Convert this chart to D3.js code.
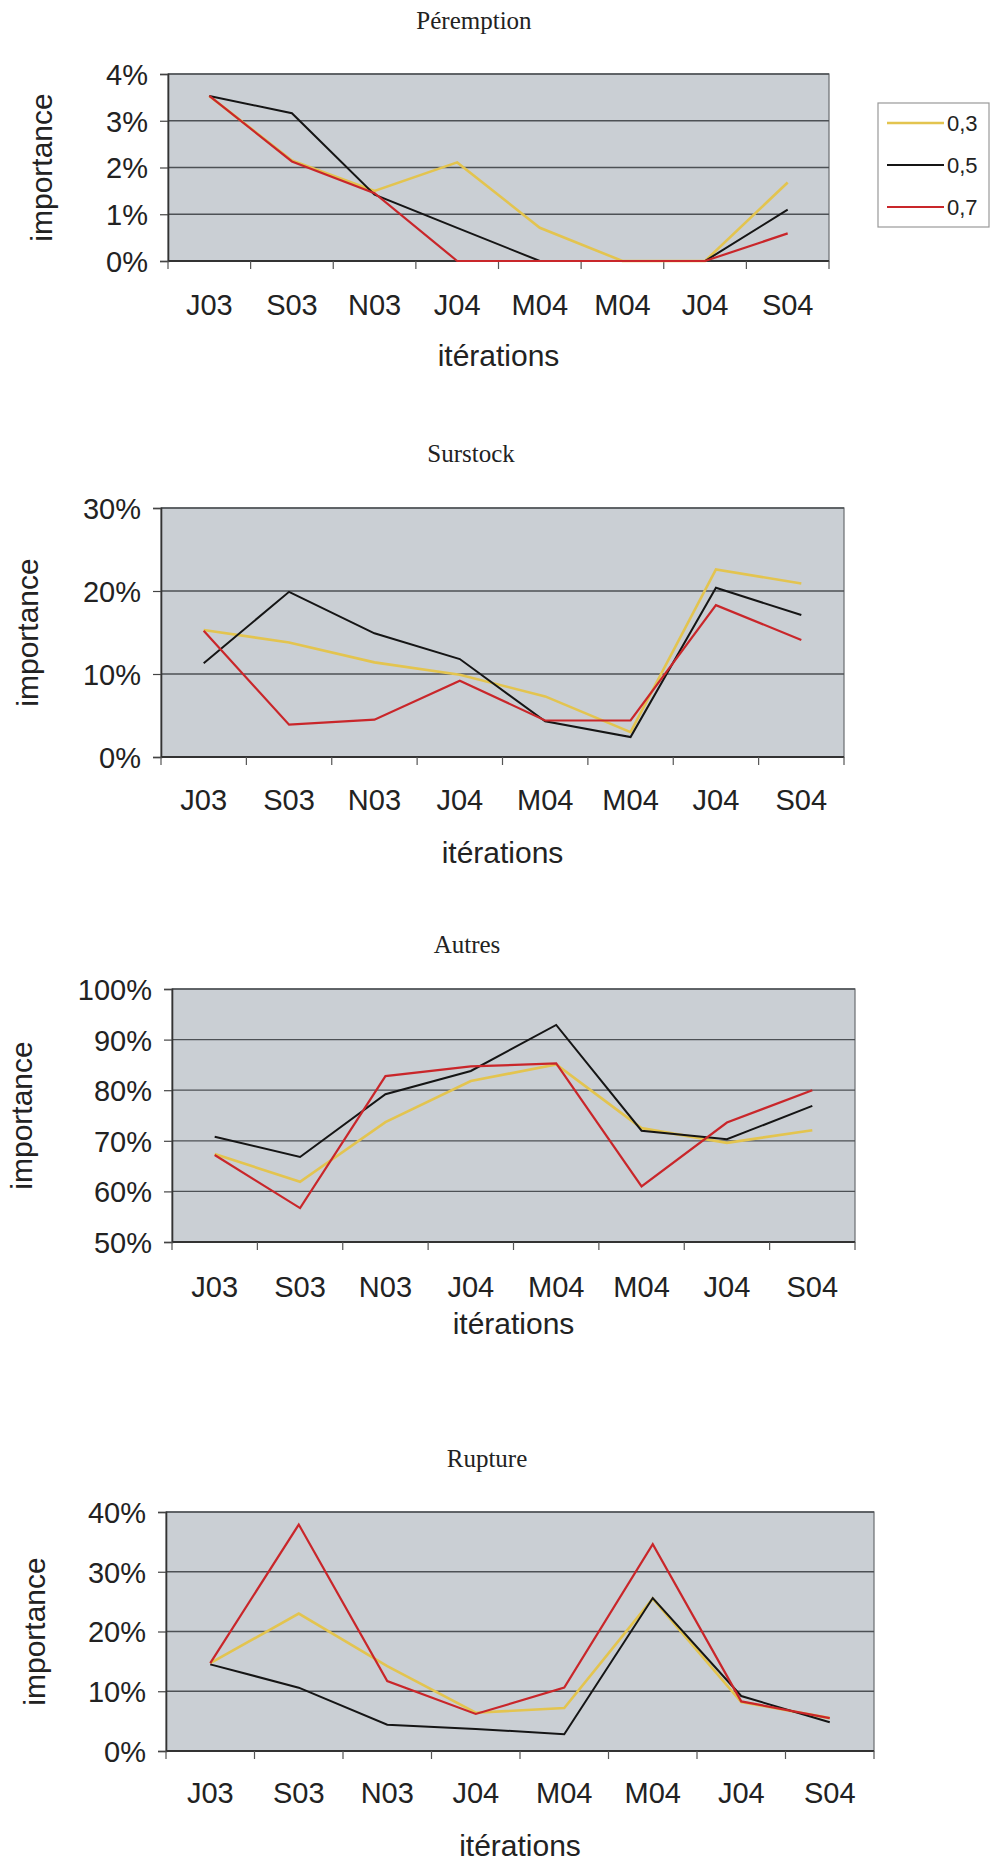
<!DOCTYPE html>
<html>
<head>
<meta charset="utf-8">
<script src="https://cdn.jsdelivr.net/npm/d3@7"></script>
<style>
  html, body { margin: 0; padding: 0; background: #fff; }
  svg { display: block; }
  .tick text { fill: #222; }
</style>
</head>
<body>
<svg id="chart" width="993" height="1862"></svg>
<script>
// ---- data ----
const categories = ["J03", "S03", "N03", "J04", "M04", "M04", "J04", "S04"];
const seriesNames = ["0,3", "0,5", "0,7"];

const peremption03 = [3.53, 2.15, 1.5, 2.11, 0.71, 0, 0, 1.68];
const peremption05 = [3.53, 3.16, 1.42, 0.71, 0, 0, 0, 1.1];
const peremption07 = [3.53, 2.13, 1.45, 0, 0, 0, 0, 0.59];
const peremptionTicks = [0, 1, 2, 3, 4];

const surstock03 = [15.3, 13.8, 11.4, 9.9, 7.3, 3.0, 22.6, 20.9];
const surstock05 = [11.3, 19.9, 14.9, 11.8, 4.3, 2.4, 20.4, 17.1];
const surstock07 = [15.2, 3.9, 4.5, 9.2, 4.4, 4.4, 18.3, 14.1];
const surstockTicks = [0, 10, 20, 30];

const autres03 = [67.4, 61.9, 73.7, 81.8, 85.1, 72.5, 69.6, 72.1];
const autres05 = [70.8, 66.8, 79.2, 83.8, 92.9, 72.0, 70.3, 76.9];
const autres07 = [67.2, 56.7, 82.8, 84.7, 85.3, 61.0, 73.6, 80.0];
const autresTicks = [50, 60, 70, 80, 90, 100];

const rupture03 = [14.7, 23.0, 14.2, 6.4, 7.2, 25.5, 8.2, 5.5];
const rupture05 = [14.5, 10.6, 4.4, 3.7, 2.8, 25.6, 9.2, 4.8];
const rupture07 = [14.7, 37.9, 11.7, 6.2, 10.6, 34.6, 8.3, 5.5];
const ruptureTicks = [0, 10, 20, 30, 40];

// ---- styles / layout ----
const colors = ["#e3c44f", "#151515", "#c9262a"];
const widths = [2.6, 2, 2.2];
const fontSans = "Arial, 'Liberation Sans', Helvetica, sans-serif";
const fontSerif = "'Liberation Serif', 'Times New Roman', serif";

const charts = [
  { title: "Péremption", series: [peremption03, peremption05, peremption07], ticks: peremptionTicks,
    x0: 168, x1: 829, y0: 74, y1: 261, titleX: 474, titleY: 29, xLabY: 315, itY: 366, impX: 52, legend: true },
  { title: "Surstock", series: [surstock03, surstock05, surstock07], ticks: surstockTicks,
    x0: 161, x1: 844, y0: 508, y1: 757, titleX: 471, titleY: 462, xLabY: 810, itY: 863, impX: 38 },
  { title: "Autres", series: [autres03, autres05, autres07], ticks: autresTicks,
    x0: 172, x1: 855, y0: 989, y1: 1242, titleX: 467, titleY: 953, xLabY: 1297, itY: 1334, impX: 32 },
  { title: "Rupture", series: [rupture03, rupture05, rupture07], ticks: ruptureTicks,
    x0: 166, x1: 874, y0: 1512, y1: 1751, titleX: 487, titleY: 1467, xLabY: 1803, itY: 1856, impX: 45 }
];

const svg = d3.select("#chart");

charts.forEach(c => {
  const g = svg.append("g");
  const x = d3.scaleBand().domain(d3.range(categories.length)).range([c.x0, c.x1]);
  const y = d3.scaleLinear().domain([c.ticks[0], c.ticks[c.ticks.length - 1]]).range([c.y1, c.y0]);

  // plot background
  g.append("rect")
    .attr("x", c.x0).attr("y", c.y0)
    .attr("width", c.x1 - c.x0).attr("height", c.y1 - c.y0)
    .attr("fill", "#cacfd4")
    .attr("stroke", "#6a6d70").attr("stroke-width", 1.2);

  // gridlines
  g.selectAll(".grid").data(c.ticks).join("line")
    .attr("x1", c.x0).attr("x2", c.x1)
    .attr("y1", d => y(d)).attr("y2", d => y(d))
    .attr("stroke", "#4d5155").attr("stroke-width", 1.3);

  // y axis
  const yAxis = g.append("g")
    .attr("transform", `translate(${c.x0},0)`)
    .call(d3.axisLeft(y).tickValues(c.ticks).tickFormat(d => d + "%").tickSize(8).tickPadding(12));
  yAxis.select(".domain").attr("stroke", "#333").attr("stroke-width", 1.6);
  yAxis.selectAll(".tick line").attr("stroke", "#444").attr("stroke-width", 1.2);
  yAxis.selectAll("text").attr("font-family", fontSans).attr("font-size", 29).attr("fill", "#222")
    .attr("dy", "0.36em");

  // x axis line
  g.append("line")
    .attr("x1", c.x0).attr("x2", c.x1).attr("y1", c.y1).attr("y2", c.y1)
    .attr("stroke", "#333").attr("stroke-width", 1.8);

  // x boundary ticks
  const bounds = d3.range(categories.length + 1).map(i => i < categories.length ? x(i) : c.x1);
  g.selectAll(".xb").data(bounds).join("line")
    .attr("x1", d => d).attr("x2", d => d)
    .attr("y1", c.y1).attr("y2", c.y1 + 8)
    .attr("stroke", "#555").attr("stroke-width", 1.2);

  // x labels via axis
  const xAxis = g.append("g")
    .attr("transform", `translate(0,${c.xLabY})`)
    .call(d3.axisBottom(x).tickFormat(i => categories[i]).tickSize(0).tickPadding(0));
  xAxis.select(".domain").remove();
  xAxis.selectAll("text").attr("font-family", fontSans).attr("font-size", 29).attr("fill", "#222")
    .attr("dy", 0).attr("y", 0);

  // series lines
  const line = d3.line().x((d, i) => x(i) + x.bandwidth() / 2).y(d => y(d));
  c.series.forEach((s, k) => {
    g.append("path").datum(s)
      .attr("d", line)
      .attr("fill", "none")
      .attr("stroke", colors[k])
      .attr("stroke-width", widths[k])
      .attr("stroke-linejoin", "miter");
  });

  // title
  g.append("text").attr("x", c.titleX).attr("y", c.titleY)
    .attr("text-anchor", "middle").attr("font-family", fontSerif).attr("font-size", 25)
    .attr("fill", "#222").text(c.title);

  // x axis title
  g.append("text").attr("x", (c.x0 + c.x1) / 2).attr("y", c.itY)
    .attr("text-anchor", "middle").attr("font-family", fontSans).attr("font-size", 30)
    .attr("fill", "#222").text("itérations");

  // y axis title
  const cy = (c.y0 + c.y1) / 2;
  g.append("text").attr("transform", `translate(${c.impX},${cy}) rotate(-90)`)
    .attr("text-anchor", "middle").attr("font-family", fontSans).attr("font-size", 30)
    .attr("fill", "#222").text("importance");

  // legend
  if (c.legend) {
    const lg = g.append("g");
    lg.append("rect").attr("x", 878).attr("y", 103).attr("width", 111).attr("height", 124)
      .attr("fill", "#fff").attr("stroke", "#999").attr("stroke-width", 1.2);
    seriesNames.forEach((n, k) => {
      const yy = 123 + k * 42;
      lg.append("line").attr("x1", 887).attr("x2", 944).attr("y1", yy).attr("y2", yy)
        .attr("stroke", colors[k]).attr("stroke-width", widths[k]);
      lg.append("text").attr("x", 947).attr("y", yy).attr("dy", "0.36em")
        .attr("font-family", fontSans).attr("font-size", 22).attr("fill", "#222").text(n);
    });
  }
});
</script>
</body>
</html>
